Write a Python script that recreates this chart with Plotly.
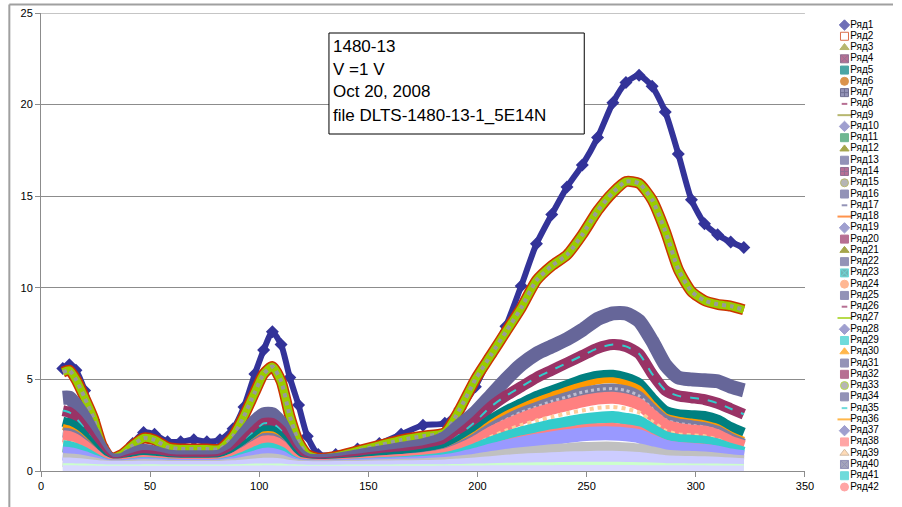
import plotly.graph_objects as go

# ---------------- data ----------------
T = [10, 13, 16, 20, 24, 28, 32, 37, 42, 47, 52, 58, 64, 70, 76, 82, 88, 93, 98, 102,
     106, 110, 114, 118, 122, 127, 135, 145, 155, 165, 175, 185, 192, 199, 206, 213, 220,
     227, 234, 241, 248, 255, 262, 268, 274, 280, 286, 292, 298, 304, 310, 316, 322]

ROW1 = [5.6, 5.8, 5.5, 4.4, 2.8, 1.4, 0.7, 0.8, 1.5, 2.1, 2.0, 1.6, 1.6, 1.7, 1.6, 1.7, 2.3, 3.5, 5.3, 6.6,
        7.6, 6.9, 5.1, 3.6, 1.9, 0.9, 0.9, 1.2, 1.5, 2.0, 2.5, 2.6, 3.4, 4.6, 6.3, 7.9, 10.1, 12.4, 14.0, 15.5,
        16.7, 18.2, 20.1, 21.2, 21.6, 21.0, 19.6, 17.3, 14.8, 13.5, 12.9, 12.5, 12.2]
ROW2 = [5.4, 5.5, 5.0, 4.0, 2.9, 1.4, 0.7, 0.9, 1.4, 1.8, 1.7, 1.3, 1.2, 1.2, 1.2, 1.2, 1.9, 3.0, 4.3, 5.3,
        5.7, 4.9, 3.0, 1.6, 0.9, 0.7, 0.8, 1.1, 1.4, 1.7, 1.9, 2.1, 3.4, 5.0, 6.3, 7.6, 8.9, 10.4, 11.2, 11.8,
        12.9, 14.2, 15.2, 15.8, 15.7, 14.8, 13.1, 11.0, 9.8, 9.3, 9.1, 9.0, 8.8]
ROW7 = [4.0, 4.0, 3.6, 2.9, 2.0, 1.1, 0.6, 0.6, 0.9, 1.1, 1.0, 0.8, 0.75, 0.75, 0.75, 0.8, 1.3, 2.0, 2.7, 3.1,
        3.1, 2.6, 1.6, 0.9, 0.6, 0.55, 0.6, 0.8, 1.0, 1.2, 1.4, 1.8, 2.5, 3.2, 4.1, 5.0, 5.8, 6.4, 6.8, 7.2,
        7.7, 8.3, 8.6, 8.6, 8.2, 7.1, 5.8, 5.1, 5.0, 4.95, 4.9, 4.6, 4.4]
ROW14 = [3.3, 3.2, 2.9, 2.3, 1.6, 0.9, 0.5, 0.5, 0.7, 0.85, 0.8, 0.65, 0.6, 0.6, 0.6, 0.65, 1.0, 1.6, 2.2, 2.6,
         2.6, 2.2, 1.3, 0.75, 0.5, 0.45, 0.5, 0.65, 0.8, 0.95, 1.1, 1.4, 2.0, 2.7, 3.5, 4.1, 4.6, 5.1, 5.5, 5.9,
         6.3, 6.7, 6.9, 6.8, 6.4, 5.3, 4.4, 4.1, 4.0, 3.9, 3.7, 3.4, 3.1]
ROW5 = [2.7, 2.6, 2.4, 1.9, 1.3, 0.75, 0.45, 0.45, 0.6, 0.7, 0.65, 0.55, 0.5, 0.5, 0.5, 0.55, 0.85, 1.3, 1.8, 2.2,
        2.2, 1.8, 1.1, 0.6, 0.45, 0.4, 0.45, 0.55, 0.7, 0.8, 0.95, 1.2, 1.7, 2.2, 2.8, 3.3, 3.7, 4.1, 4.4, 4.7,
        5.0, 5.2, 5.25, 5.1, 4.8, 4.0, 3.3, 3.1, 3.05, 3.0, 2.8, 2.4, 2.1]
ROW30 = [2.4, 2.3, 2.1, 1.7, 1.2, 0.7, 0.42, 0.42, 0.55, 0.65, 0.6, 0.5, 0.47, 0.47, 0.47, 0.5, 0.8, 1.2, 1.65, 2.0,
         2.0, 1.65, 1.0, 0.55, 0.42, 0.38, 0.42, 0.5, 0.62, 0.72, 0.85, 1.1, 1.5, 2.0, 2.6, 3.1, 3.5, 3.85, 4.15, 4.45,
         4.7, 4.9, 4.95, 4.8, 4.5, 3.7, 3.0, 2.8, 2.7, 2.6, 2.4, 2.0, 1.7]
ROW40 = [2.1, 2.05, 1.9, 1.5, 1.05, 0.62, 0.4, 0.4, 0.5, 0.6, 0.55, 0.47, 0.44, 0.44, 0.44, 0.47, 0.72, 1.1, 1.5, 1.8,
         1.8, 1.5, 0.9, 0.5, 0.4, 0.36, 0.4, 0.47, 0.57, 0.66, 0.78, 1.0, 1.35, 1.8, 2.35, 2.8, 3.2, 3.5, 3.8, 4.05,
         4.3, 4.45, 4.5, 4.4, 4.1, 3.4, 2.8, 2.6, 2.5, 2.4, 2.2, 1.8, 1.5]
ROW38 = [1.9, 1.85, 1.7, 1.35, 0.95, 0.56, 0.37, 0.37, 0.46, 0.55, 0.5, 0.43, 0.4, 0.4, 0.4, 0.43, 0.65, 0.98, 1.35, 1.6,
         1.6, 1.35, 0.8, 0.46, 0.37, 0.33, 0.36, 0.43, 0.52, 0.6, 0.7, 0.9, 1.2, 1.6, 2.1, 2.5, 2.85, 3.15, 3.4, 3.6,
         3.8, 3.95, 4.0, 3.9, 3.65, 3.05, 2.5, 2.3, 2.2, 2.15, 1.95, 1.6, 1.35]
ROW39 = [1.6, 1.55, 1.45, 1.15, 0.82, 0.5, 0.34, 0.34, 0.42, 0.5, 0.46, 0.4, 0.37, 0.37, 0.37, 0.4, 0.58, 0.86, 1.18, 1.4,
         1.4, 1.18, 0.7, 0.42, 0.34, 0.3, 0.33, 0.39, 0.47, 0.54, 0.63, 0.8, 1.05, 1.4, 1.85, 2.2, 2.5, 2.75, 2.95, 3.15,
         3.3, 3.45, 3.5, 3.4, 3.2, 2.7, 2.2, 2.0, 1.95, 1.9, 1.7, 1.4, 1.2]
ROW41 = [1.35, 1.3, 1.2, 0.98, 0.7, 0.44, 0.3, 0.3, 0.37, 0.44, 0.41, 0.36, 0.33, 0.33, 0.33, 0.36, 0.5, 0.74, 1.0, 1.2,
         1.2, 1.0, 0.6, 0.37, 0.3, 0.27, 0.3, 0.35, 0.42, 0.48, 0.56, 0.7, 0.9, 1.2, 1.55, 1.85, 2.1, 2.3, 2.5, 2.65,
         2.8, 2.9, 2.95, 2.85, 2.7, 2.25, 1.85, 1.7, 1.65, 1.6, 1.45, 1.2, 1.0]
ROW42 = [1.15, 1.1, 1.02, 0.84, 0.61, 0.39, 0.28, 0.28, 0.33, 0.39, 0.37, 0.32, 0.3, 0.3, 0.3, 0.32, 0.45, 0.65, 0.87, 1.04,
         1.04, 0.87, 0.53, 0.33, 0.28, 0.25, 0.28, 0.32, 0.38, 0.43, 0.5, 0.62, 0.79, 1.04, 1.33, 1.58, 1.8, 1.97, 2.14, 2.27,
         2.4, 2.47, 2.5, 2.42, 2.3, 1.92, 1.58, 1.45, 1.4, 1.35, 1.22, 1.02, 0.88]
ROW43 = [0.95, 0.92, 0.85, 0.7, 0.52, 0.34, 0.25, 0.25, 0.3, 0.35, 0.33, 0.29, 0.27, 0.27, 0.27, 0.29, 0.4, 0.56, 0.74, 0.88,
         0.88, 0.74, 0.46, 0.3, 0.25, 0.23, 0.25, 0.29, 0.34, 0.38, 0.44, 0.54, 0.68, 0.88, 1.12, 1.32, 1.5, 1.65, 1.78, 1.9,
         2.0, 2.05, 2.05, 2.0, 1.9, 1.6, 1.32, 1.2, 1.15, 1.1, 1.0, 0.85, 0.75]
ROW44 = [0.6, 0.58, 0.55, 0.47, 0.37, 0.27, 0.21, 0.21, 0.24, 0.27, 0.26, 0.23, 0.22, 0.22, 0.22, 0.23, 0.3, 0.4, 0.5, 0.58,
         0.58, 0.5, 0.34, 0.24, 0.21, 0.2, 0.21, 0.23, 0.26, 0.29, 0.32, 0.38, 0.46, 0.56, 0.7, 0.82, 0.92, 1.0, 1.08, 1.14,
         1.2, 1.22, 1.22, 1.18, 1.12, 0.96, 0.8, 0.74, 0.71, 0.68, 0.62, 0.54, 0.48]
ROW45 = [0.35, 0.35, 0.33, 0.29, 0.24, 0.19, 0.16, 0.16, 0.17, 0.18, 0.18, 0.17, 0.16, 0.16, 0.16, 0.17, 0.2, 0.25, 0.3, 0.34,
         0.34, 0.3, 0.22, 0.17, 0.16, 0.15, 0.16, 0.17, 0.19, 0.2, 0.22, 0.25, 0.3, 0.36, 0.43, 0.5, 0.56, 0.6, 0.64, 0.68,
         0.7, 0.72, 0.72, 0.7, 0.66, 0.57, 0.48, 0.45, 0.43, 0.42, 0.39, 0.35, 0.32]
ROW46 = [0.26, 0.26, 0.25, 0.24, 0.22, 0.2, 0.19, 0.19, 0.19, 0.2, 0.2, 0.19, 0.19, 0.19, 0.19, 0.19, 0.2, 0.22, 0.24, 0.25,
         0.25, 0.24, 0.21, 0.19, 0.18, 0.18, 0.18, 0.19, 0.19, 0.2, 0.2, 0.21, 0.22, 0.24, 0.26, 0.28, 0.3, 0.31, 0.32, 0.33,
         0.34, 0.34, 0.34, 0.33, 0.32, 0.3, 0.27, 0.26, 0.25, 0.25, 0.24, 0.23, 0.22]
ROW47 = [0.09, 0.09, 0.09, 0.08, 0.08, 0.07, 0.07, 0.07, 0.07, 0.07, 0.07, 0.07, 0.07, 0.07, 0.07, 0.07, 0.07, 0.08, 0.08, 0.09,
         0.09, 0.08, 0.08, 0.07, 0.07, 0.07, 0.07, 0.07, 0.07, 0.07, 0.07, 0.08, 0.08, 0.08, 0.09, 0.09, 0.1, 0.1, 0.1, 0.11,
         0.11, 0.11, 0.11, 0.11, 0.1, 0.1, 0.09, 0.09, 0.09, 0.09, 0.08, 0.08, 0.08]
ROW8_X = [197, 201, 205, 227, 232, 237, 242]
ROW8_Y = [-0.05, -0.05, -0.05, -0.05, -0.05, -0.05, -0.05]

X_TICKS = [0, 50, 100, 150, 200, 250, 300, 350]
Y_TICKS = [0, 5, 10, 15, 20, 25]
INFO_LINES = ["1480-13", "V =1 V", "Oct 20, 2008", "file DLTS-1480-13-1_5E14N"]

LEGEND_NAMES = ["Ряд%d" % i for i in range(1, 43)]
LEGEND_SYMBOLS = ["diamond", "square", "triangle-up", "square-x", "square", "circle", "square-cross", "line-ew",
                  "line-ew", "diamond", "square", "triangle-up", "square", "square-cross", "circle", "square",
                  "line-ew", "line-ew", "diamond", "square", "triangle-up", "square", "square-x", "circle",
                  "square", "line-ew", "line-ew", "diamond", "square", "triangle-up", "square", "square",
                  "circle", "square", "line-ew", "line-ew", "diamond", "square", "triangle-up", "square-x",
                  "square", "circle"]
LEGEND_FILL = ["#333399", "#FFFFFF", "#999933", "#993366", "#008080", "#CC6600", "#666699", "#993366",
               "#999933", "#7777BB", "#339966", "#808000", "#666699", "#993366", "#969696", "#666699",
               "#666699", "#FF6600", "#7777BB", "#993366", "#808000", "#666699", "#339999", "#FF9966",
               "#666699", "#993366", "#99CC00", "#7777BB", "#33CCCC", "#FF9900", "#666699", "#993366",
               "#969696", "#666699", "#33CCCC", "#FF9900", "#7777BB", "#FF8080", "#FFCC99", "#8080A0",
               "#33CCCC", "#FF8080"]
LEGEND_EDGE = ["#333399", "#CC3300", "#999933", "#663366", "#008080", "#CC6600", "#333366", "#993366",
               "#999933", "#7777BB", "#339966", "#808000", "#666699", "#663366", "#999933", "#666699",
               "#666699", "#FF6600", "#7777BB", "#993366", "#808000", "#666699", "#33CCCC", "#FF9966",
               "#666699", "#993366", "#99CC00", "#7777BB", "#33CCCC", "#FF9900", "#666699", "#993366",
               "#99CC00", "#666699", "#33CCCC", "#FF9900", "#7777BB", "#FF8080", "#C0A080", "#666699",
               "#33CCCC", "#FF8080"]

# ---------------- layout geometry (pixels) ----------------
W, H = 902, 507
ML, MR, MT, MB = 41, 0, 13, 12
PW, PH = W - ML - MR, H - MT - MB


def px(xp):
    return (xp - ML) / PW


def py(yp):
    return (H - MB - yp) / PH


fig = go.Figure()


def band(y, color, width, name, dash="solid", mode="lines", marker=None):
    tr = go.Scatter(x=T, y=y, mode=mode, name=name, showlegend=False,
                    line=dict(color=color, width=width, dash=dash, shape="spline", smoothing=0.6),
                    xaxis="x", yaxis="y")
    if marker:
        tr.marker = marker
    fig.add_trace(tr)


band(ROW1, "#333399", 6, "Ряд1", mode="lines+markers",
     marker=dict(symbol="diamond", size=10, color="#333399"))
band(ROW2, "#CC3300", 11, "Ряд2")
band(ROW2, "#99CC00", 8, "Ряд27")
band(ROW2, "#9A9A9A", 4, "Ряд15", dash="dot")
band(ROW7, "#666699", 14, "Ряд7")
band(ROW14, "#993366", 11, "Ряд14")
band(ROW14, "#33CCCC", 2, "Ряд23", dash="dash")
band(ROW5, "#008080", 10, "Ряд5")
band(ROW30, "#FF9900", 6, "Ряд30")
band(ROW40, "#7B7B9E", 10, "Ряд40")
band(ROW40, "#BDBDD0", 3, "Ряд40", dash="dot")
band(ROW38, "#FF8080", 12, "Ряд38")
band(ROW39, "#FFCC99", 4, "Ряд39", dash="dot")
band(ROW41, "#33CCCC", 12, "Ряд41")
band(ROW42, "#FF8080", 5, "Ряд42")
band(ROW43, "#9999FF", 14, "Ряд43")
band(ROW44, "#C0C0C0", 14, "Ряд44")
band(ROW45, "#CCCCFF", 14, "Ряд45")
band(ROW46, "#CCFFCC", 6, "Ряд46")
band(ROW47, "#D9D9FF", 8, "Ряд47")

fig.add_trace(go.Scatter(x=ROW8_X, y=ROW8_Y, mode="markers", name="Ряд8", showlegend=False,
                         cliponaxis=False,
                         marker=dict(symbol="line-ew", size=9, line=dict(color="#993366", width=3)),
                         xaxis="x", yaxis="y"))

# manual legend (Excel shows a compact legend list)
leg_size = [8 if s != "line-ew" else (4 if i % 9 == 7 else 10) for i, s in enumerate(LEGEND_SYMBOLS)]
leg_lw = [1 if s != "line-ew" else 2 for s in LEGEND_SYMBOLS]
leg_rows = list(range(1, len(LEGEND_NAMES) + 1))
fig.add_trace(go.Scatter(
    x=[0.14] * len(LEGEND_NAMES), y=leg_rows, mode="markers",
    marker=dict(symbol=LEGEND_SYMBOLS, size=leg_size, color=LEGEND_FILL,
                line=dict(color=LEGEND_EDGE, width=leg_lw)),
    showlegend=False, hoverinfo="skip", cliponaxis=False, xaxis="x2", yaxis="y2"))
fig.add_trace(go.Scatter(
    x=[0.24] * len(LEGEND_NAMES), y=leg_rows, mode="text", text=LEGEND_NAMES,
    textposition="middle right",
    textfont=dict(family="Arial, Liberation Sans", size=10, color="#000000"),
    showlegend=False, hoverinfo="skip", cliponaxis=False, xaxis="x2", yaxis="y2"))

axis_col = "#8C8C8C"
fig.update_layout(
    width=W, height=H, autosize=False, margin=dict(l=ML, r=MR, t=MT, b=MB),
    paper_bgcolor="white", plot_bgcolor="white", showlegend=False,
    font=dict(family="Arial, Liberation Sans", size=11, color="#000000"),
    xaxis=dict(domain=[0, px(813)], range=[0, 350], tickvals=X_TICKS, ticktext=[str(v) for v in X_TICKS],
               showgrid=False, zeroline=False, showline=True, linecolor=axis_col, linewidth=1,
               ticks="outside", ticklen=5, tickcolor=axis_col, anchor="y",
               tickfont=dict(size=11)),
    yaxis=dict(domain=[py(471), 1], range=[0, 25], tickvals=Y_TICKS, ticktext=[str(v) for v in Y_TICKS],
               showgrid=True, gridcolor=axis_col, gridwidth=1, zeroline=False, showline=True,
               linecolor=axis_col, linewidth=1, ticks="outside", ticklen=5, tickcolor=axis_col,
               anchor="x", tickfont=dict(size=11)),
    xaxis2=dict(domain=[px(845), 1], range=[0, 1], visible=False, anchor="y2"),
    yaxis2=dict(domain=[0, 1], range=[42.71, -0.065], visible=False, anchor="x2"),
)

# outer chart border (top and left visible)
fig.add_shape(type="line", xref="paper", yref="paper", x0=px(9), x1=px(902), y0=py(4.5), y1=py(4.5),
              line=dict(color="#A0A0A0", width=2))
fig.add_shape(type="line", xref="paper", yref="paper", x0=px(9), x1=px(9), y0=py(4.5), y1=py(510),
              line=dict(color="#A0A0A0", width=2))
# top gridline (y = 25)
fig.add_shape(type="line", xref="x", yref="y", x0=0, x1=350, y0=25, y1=25,
              line=dict(color=axis_col, width=1))

# info text box
fig.add_shape(type="rect", xref="paper", yref="paper", x0=px(332), x1=px(590), y0=py(134), y1=py(33),
              line=dict(color="#000000", width=1), fillcolor="white", layer="above")
for line_text, yc in zip(INFO_LINES, [47, 69, 92, 115]):
    fig.add_annotation(xref="paper", yref="paper", x=px(334), y=py(yc), xanchor="left", yanchor="middle",
                       text=line_text, showarrow=False,
                       font=dict(family="Arial, Liberation Sans", size=17, color="#000000"))

fig.write_html("out.html", config={"responsive": False})
